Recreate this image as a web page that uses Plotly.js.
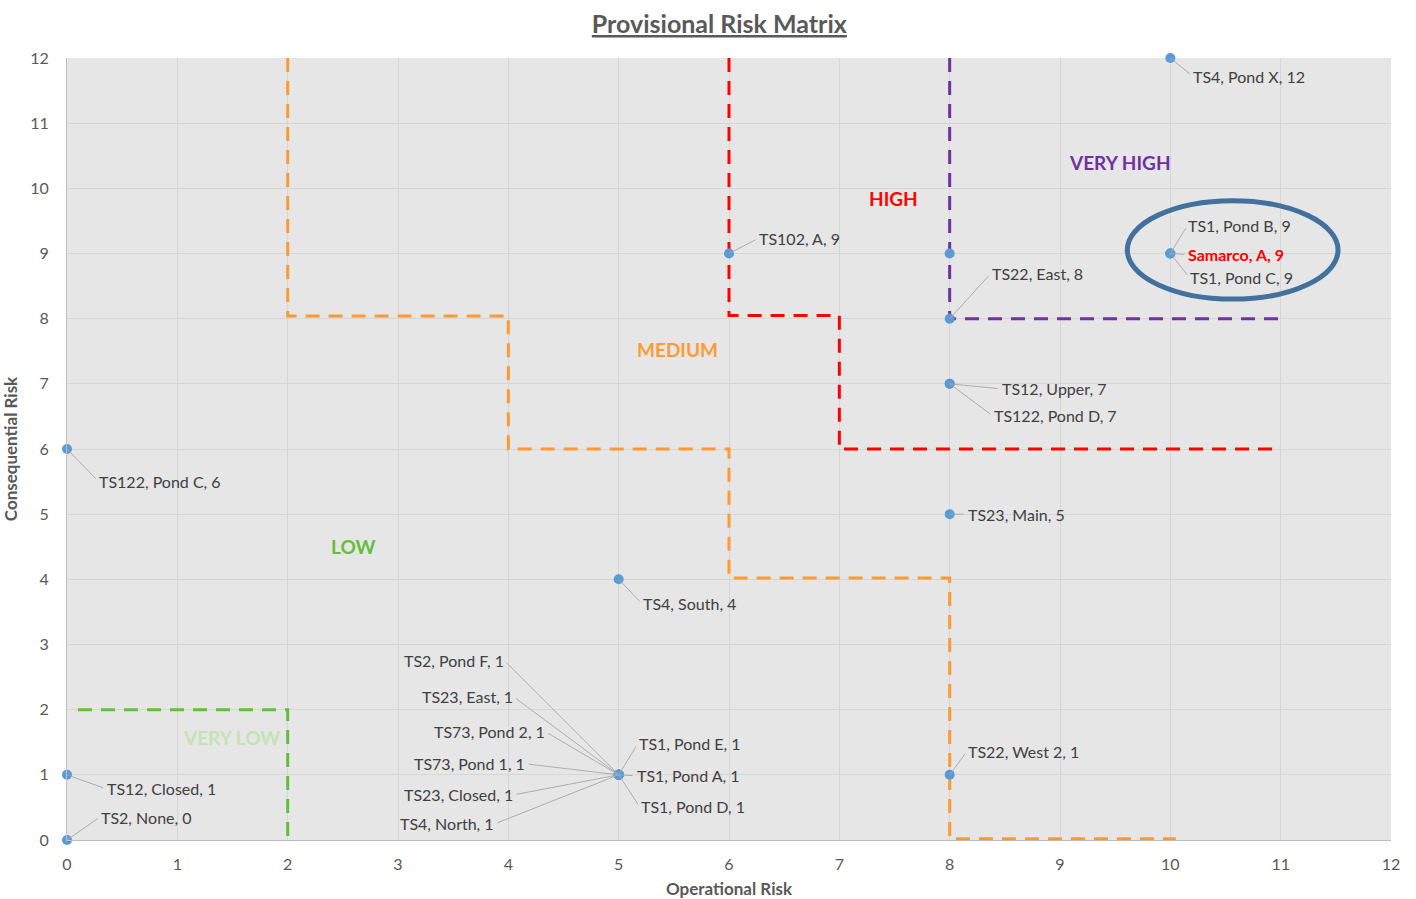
<!DOCTYPE html>
<html>
<head>
<meta charset="utf-8">
<script src="https://cdn.plot.ly/plotly-3.0.1.min.js"></script>
<style>html,body{margin:0;padding:0;background:#fff;}#chart{width:1416px;height:899px;}</style>
</head>
<body>
<div id="chart"></div>
<script>
// ---- data ----
const pointX = [10, 6, 8, 8, 10, 10, 10, 8, 8, 0, 8, 5, 5, 5, 5, 5, 5, 5, 5, 5, 5, 8, 0, 0];
const pointY = [12, 9, 9, 8, 9, 9, 9, 7, 7, 6, 5, 4, 1, 1, 1, 1, 1, 1, 1, 1, 1, 1, 1, 0];
const pointLabels = [
  "TS4, Pond X, 12", "TS102, A, 9", "", "TS22, East, 8",
  "TS1, Pond B, 9", "Samarco, A, 9", "TS1, Pond C, 9",
  "TS12, Upper, 7", "TS122, Pond D, 7", "TS122, Pond C, 6", "TS23, Main, 5", "TS4, South, 4",
  "TS2, Pond F, 1", "TS23, East, 1", "TS73, Pond 2, 1", "TS73, Pond 1, 1", "TS23, Closed, 1", "TS4, North, 1",
  "TS1, Pond E, 1", "TS1, Pond A, 1", "TS1, Pond D, 1", "TS22, West 2, 1", "TS12, Closed, 1", "TS2, None, 0"
];
const highlighted = ["Samarco, A, 9"];

// risk zone boundaries
const veryLowX = [0.1, 2, 2];
const veryLowY = [2, 2, 0.05];
const mediumX = [2, 2, 4, 4, 6, 6, 8, 8, 10.05];
const mediumY = [12, 8.04, 8.04, 6, 6, 4.02, 4.02, 0.02, 0.02];
const highX = [6, 6, 7, 7, 11];
const highY = [12, 8.05, 8.05, 6, 6];
const veryHighX = [8, 8, 11];
const veryHighY = [12, 8, 8];

const zoneNames = ["LOW", "MEDIUM", "HIGH", "VERY HIGH", "VERY LOW"];
const zoneX = [2.59, 5.53, 7.49, 9.54, 1.49];
const zoneY = [4.5, 7.52, 9.84, 10.39, 1.58];

// ---- presentation ----
const zoneColors = ["#63be3a", "#ff9a33", "#ff0000", "#7030a0", "#c5e3b0"];
// label offsets in pixels (point -> near edge of label, vertical centre)
const labelOffsets = [
  [22, 18], [29, -15], [0, 0], [41, -45],
  [17, -28], [17, 1], [19, 24],
  [51, 5], [43, 32], [31, 32], [17, 0], [23, 24],
  [-114, -114], [-105, -78], [-73, -43], [-93, -11], [-105, 20], [-124, 49],
  [19, -31], [17, 1], [21, 32], [17, -23], [39, 14], [33, -23]
];
const FONT = "Lato, 'Open Sans', sans-serif";
const dash = "14px,9px";

function boundary(x, y, color) {
  return {x: x, y: y, type: "scatter", mode: "lines", hoverinfo: "skip",
    line: {color: color, width: 3, dash: dash}, showlegend: false};
}

const traces = [
  boundary(veryLowX, veryLowY, "#5fc13a"),
  boundary(mediumX, mediumY, "#ff9a33"),
  boundary(highX, highY, "#ff0000"),
  boundary(veryHighX, veryHighY, "#7030a0"),
  {x: pointX, y: pointY, type: "scatter", mode: "markers", text: pointLabels,
   marker: {color: "#5b9bd5", size: 10}, cliponaxis: false, showlegend: false}
];

const annotations = [];
pointLabels.forEach((t, i) => {
  if (!t) return;
  const hi = highlighted.includes(t);
  const off = labelOffsets[i];
  annotations.push({
    x: pointX[i], y: pointY[i], xref: "x", yref: "y",
    text: hi ? "<b>" + t + "</b>" : t,
    xanchor: off[0] < 0 ? "right" : "left", yanchor: "middle",
    showarrow: true, arrowhead: 0, arrowwidth: 0.9, arrowcolor: "#a6a6a6",
    standoff: 0, startstandoff: 3, borderpad: 0,
    ax: off[0], ay: off[1],
    font: {family: FONT, size: 16, color: hi ? "#ff0000" : "#404040"}
  });
});
zoneNames.forEach((t, i) => {
  annotations.push({
    x: zoneX[i], y: zoneY[i], xref: "x", yref: "y", text: "<b>" + t + "</b>",
    showarrow: false, font: {family: FONT, size: 19, color: zoneColors[i]}
  });
});

const layout = {
  width: 1416, height: 899,
  margin: {l: 67, r: 25, t: 58, b: 59},
  paper_bgcolor: "#ffffff", plot_bgcolor: "#e6e6e6",
  font: {family: FONT, color: "#595959", size: 15},
  title: {text: "<u><b>Provisional Risk Matrix</b></u>", x: 0.508, xanchor: "center", y: 0.973, yanchor: "middle",
    font: {family: FONT, size: 25, color: "#595959"}},
  xaxis: {range: [0, 12], dtick: 1, tick0: 0, showgrid: true, gridcolor: "#d6d6d6", gridwidth: 1,
    zeroline: false, showline: true, linecolor: "#bfbfbf", linewidth: 1, ticks: "",
    ticklabelstandoff: 10,
    tickfont: {family: FONT, size: 16, color: "#595959"},
    title: {text: "<b>Operational Risk</b>", standoff: 10, font: {family: FONT, size: 17, color: "#595959"}}},
  yaxis: {range: [0, 12], dtick: 1, tick0: 0, showgrid: true, gridcolor: "#d6d6d6", gridwidth: 1,
    zeroline: false, showline: true, linecolor: "#bfbfbf", linewidth: 1, ticks: "",
    ticklabelstandoff: 14,
    tickfont: {family: FONT, size: 16, color: "#595959"},
    title: {text: "<b>Consequential Risk</b>", standoff: 14, font: {family: FONT, size: 17, color: "#595959"}}},
  shapes: [
    {type: "circle", xref: "x", yref: "y", x0: 9.61, x1: 11.52, y0: 8.30, y1: 9.81,
     line: {color: "#41719c", width: 5}, fillcolor: "rgba(0,0,0,0)"}
  ],
  annotations: annotations
};

Plotly.newPlot("chart", traces, layout, {displayModeBar: false, staticPlot: true});
</script>
</body>
</html>
